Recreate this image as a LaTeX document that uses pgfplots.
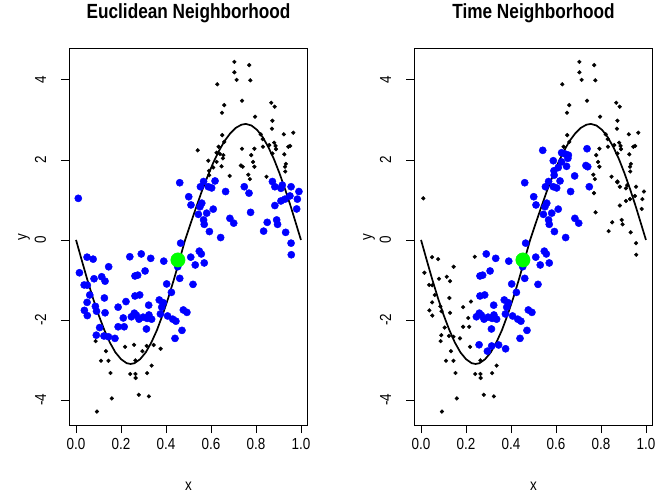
\documentclass[border=0pt]{standalone}
\usepackage{pgfplots}
\pgfplotsset{compat=1.18}
\usepackage{pgfplotstable}
\usepackage{fontspec}
\setmainfont{Liberation Sans}[FakeStretch=0.84]
\definecolor{rblue}{RGB}{0,0,255}
\definecolor{rgreen}{RGB}{0,255,0}
% x y e(euclidean member) t(time member)
\pgfplotstableread{
x y e t
0.704 4.45 0 0
0.770 4.37 0 0
0.704 4.19 0 0
0.714 4.00 0 0
0.775 3.99 0 0
0.628 3.89 0 0
0.738 3.48 0 0
0.659 3.37 0 0
0.868 3.43 0 0
0.883 3.33 0 0
0.649 3.18 0 0
0.796 3.08 0 0
0.873 2.98 0 0
0.871 2.78 0 0
0.966 2.68 0 0
0.924 2.64 0 0
0.650 2.62 0 0
0.821 2.64 0 0
0.659 2.45 0 0
0.830 2.52 0 0
0.634 2.33 0 0
0.541 2.24 0 1
0.738 2.28 0 1
0.793 2.28 0 0
0.831 2.33 0 0
0.859 2.37 0 0
0.881 2.43 0 0
0.887 2.35 0 0
0.889 2.27 0 0
0.944 2.33 0 0
0.952 2.35 0 0
0.625 2.18 0 1
0.640 2.15 0 1
0.655 2.12 0 1
0.873 2.16 0 0
0.926 2.14 0 0
0.779 2.12 0 0
0.653 2.04 0 1
0.588 1.98 0 1
0.787 1.95 0 0
0.625 1.95 0 1
0.733 1.86 0 1
0.741 1.83 0 1
0.793 1.83 0 0
0.647 1.84 0 1
0.610 1.81 0 1
0.591 1.73 0 1
0.933 1.90 0 0
0.929 1.83 0 0
0.930 1.71 0 0
0.592 1.62 0 1
0.683 1.60 0 1
0.766 1.63 0 0
0.847 1.58 0 0
0.773 1.52 0 0
0.873 1.44 0 0
0.461 1.43 1 1
0.567 1.46 1 1
0.553 1.33 1 1
0.588 1.33 1 1
0.603 1.30 1 1
0.618 1.475 1 1
0.501 1.08 1 1
0.511 0.875 1 1
0.559 0.92 1 1
0.551 0.83 1 1
0.544 0.64 1 1
0.581 0.67 1 1
0.610 0.77 1 1
0.567 0.50 1 1
0.570 0.39 1 1
0.593 0.21 1 1
0.643 0.06 1 1
0.665 1.21 1 1
0.748 1.33 1 1
0.769 1.17 1 0
0.776 0.69 1 0
0.684 0.54 1 1
0.701 0.42 1 1
0.850 0.44 1 0
0.834 0.22 1 0
0.892 0.50 1 0
0.896 0.39 1 0
0.932 0.19 1 0
0.873 1.46 1 0
0.884 1.33 1 0
0.911 1.29 1 0
0.917 1.37 1 0
0.956 1.33 1 0
0.991 1.21 1 0
0.951 1.10 1 0
0.929 1.02 1 0
0.911 0.975 1 0
0.884 0.86 1 0
0.984 1.02 1 0
0.981 0.775 1 0
0.465 -0.08 1 1
0.510 -0.43 1 1
0.548 -0.28 1 1
0.557 -0.35 1 1
0.530 -0.625 1 1
0.570 -0.575 1 1
0.452 -0.67 1 1
0.461 -0.96 1 1
0.520 -1.11 1 1
0.477 -1.75 1 1
0.493 -1.81 1 1
0.444 -2.03 1 1
0.471 -2.26 1 1
0.440 -2.46 1 1
0.956 -0.08 1 0
0.957 -0.37 1 0
0.239 -0.42 1 0
0.290 -0.35 1 1
0.332 -0.46 1 1
0.390 -0.53 1 1
0.049 -0.43 1 0
0.076 -0.48 1 0
0.145 -0.67 1 0
0.015 -0.82 1 0
0.307 -0.775 1 1
0.274 -0.88 1 1
0.262 -0.90 1 1
0.114 -0.92 1 0
0.080 -0.97 1 0
0.129 -1.03 1 0
0.036 -1.125 1 0
0.050 -1.13 1 0
0.403 -1.10 1 1
0.424 -1.31 1 1
0.061 -1.375 1 0
0.262 -1.40 1 1
0.283 -1.375 1 1
0.126 -1.45 1 0
0.049 -1.56 1 0
0.222 -1.54 1 0
0.370 -1.50 1 1
0.086 -1.66 1 0
0.323 -1.63 1 1
0.388 -1.57 1 1
0.381 -1.68 1 1
0.187 -1.68 1 0
0.037 -1.76 1 0
0.091 -1.78 1 0
0.129 -1.82 1 0
0.050 -1.89 1 0
0.259 -1.83 1 1
0.268 -1.88 1 1
0.246 -1.92 1 1
0.298 -1.93 1 1
0.280 -1.98 1 1
0.324 -1.875 1 1
0.316 -1.96 1 1
0.336 -1.98 1 1
0.375 -1.85 1 1
0.407 -1.90 1 1
0.430 -1.98 1 1
0.210 -1.95 1 0
0.105 -2.19 1 0
0.187 -2.17 1 0
0.214 -2.17 1 0
0.313 -2.225 1 1
0.090 -2.38 1 0
0.124 -2.40 1 0
0.144 -2.42 1 0
0.173 -2.46 1 0
0.087 -2.53 0 0
0.133 -2.78 0 0
0.111 -3.02 0 0
0.144 -3.02 0 0
0.153 -3.325 0 0
0.218 -2.67 0 0
0.258 -2.62 0 1
0.314 -2.65 0 1
0.345 -2.625 0 1
0.376 -2.72 0 1
0.264 -3.01 0 0
0.336 -3.14 0 0
0.241 -3.35 0 0
0.264 -3.35 0 0
0.265 -3.45 0 0
0.316 -3.33 0 0
0.279 -3.87 0 0
0.324 -3.91 0 0
0.159 -3.96 0 0
0.093 -4.29 0 0
0.295 -2.78 0 1
0.010 1.04 1 0
}\pts
\pgfplotstableread{
x y
0.000 0.00
0.025 -0.50
0.050 -0.99
0.075 -1.45
0.100 -1.87
0.125 -2.24
0.150 -2.56
0.175 -2.81
0.200 -2.98
0.225 -3.08
0.2425 -3.10
0.260 -3.08
0.285 -2.98
0.310 -2.81
0.335 -2.56
0.360 -2.25
0.385 -1.87
0.410 -1.45
0.435 -0.99
0.460 -0.50
0.485 0.00
0.510 0.42
0.535 0.83
0.560 1.23
0.585 1.59
0.610 1.93
0.635 2.22
0.660 2.47
0.685 2.66
0.710 2.80
0.735 2.88
0.755 2.90
0.780 2.86
0.805 2.75
0.830 2.57
0.855 2.32
0.880 2.02
0.905 1.66
0.930 1.26
0.955 0.83
0.980 0.37
1.000 0.00
}\curve
\pgfplotsset{
  rpanel/.style={
    scale only axis, width=238.4bp, height=376.7bp,
    anchor=south west,
    xmin=-0.03, xmax=1.03, ymin=-4.625, ymax=4.79,
    axis line style={line width=0.8bp, black},
    tick align=outside, xtick pos=bottom, ytick pos=left,
    major tick length=8bp,
    every tick/.style={line width=0.8bp, black},
    xtick={0,0.2,0.4,0.6,0.8,1}, xticklabels={0.0,0.2,0.4,0.6,0.8,1.0},
    ytick={-4,-2,0,2,4}, yticklabels={-4,-2,0,2,4},
    tick label style={font=\fontsize{16bp}{18bp}\selectfont},
    xticklabel style={anchor=north, inner sep=0pt, yshift=-5bp},
    yticklabel style={xshift=-15bp, rotate=90, anchor=south, inner sep=0pt},
    title style={font=\bfseries\fontsize{20.5bp}{22bp}\selectfont, at={(axis description cs:0.5,1.0637)}, anchor=base, yshift=0pt},
    xlabel={x}, ylabel={y},
    label style={font=\fontsize{16bp}{18bp}\selectfont},
    xlabel style={at={(axis description cs:0.5,-0.1731)}, anchor=base},
    ylabel style={at={(axis description cs:-0.1795,0.5)}, anchor=base},
    clip=false,
  },
  blk/.style={only marks, mark=*, mark size=1.9bp, mark options={draw=black, fill=black}},
  blu/.style={only marks, mark=*, mark size=3.6bp, mark options={draw=rblue, fill=rblue}},
}
\begin{document}
\begin{tikzpicture}
\path[use as bounding box] (0,0) rectangle (664bp,497bp);
\begin{axis}[rpanel, at={(69.3bp,72bp)}, title={Euclidean Neighborhood}]
\addplot[blk, restrict expr to domain={\thisrow{e}}{-0.5:0.5}] table[x=x, y=y] {\pts};
\addplot[blu, restrict expr to domain={\thisrow{e}}{0.5:1.5}] table[x=x, y=y] {\pts};
\addplot[black, line width=1.7bp, no marks] table[x=x, y=y] {\curve};
\addplot[only marks, mark=*, mark size=7.2bp, mark options={draw=rgreen, fill=rgreen}] coordinates {(0.453,-0.50)};
\end{axis}
\begin{axis}[rpanel, at={(414.3bp,72bp)}, title={Time Neighborhood}]
\addplot[blk, restrict expr to domain={\thisrow{t}}{-0.5:0.5}] table[x=x, y=y] {\pts};
\addplot[blu, restrict expr to domain={\thisrow{t}}{0.5:1.5}] table[x=x, y=y] {\pts};
\addplot[black, line width=1.7bp, no marks] table[x=x, y=y] {\curve};
\addplot[only marks, mark=*, mark size=7.2bp, mark options={draw=rgreen, fill=rgreen}] coordinates {(0.453,-0.50)};
\end{axis}
\end{tikzpicture}
\end{document}
